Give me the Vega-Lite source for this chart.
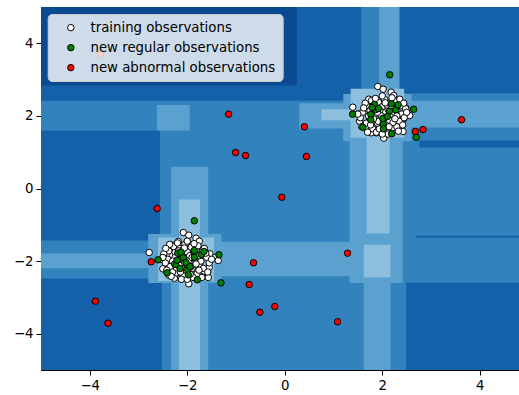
{
  "$schema": "https://vega.github.io/schema/vega-lite/v6.json",
  "width": 478,
  "height": 363,
  "autosize": "none",
  "padding": {"left": 41, "top": 7, "right": 0, "bottom": 25},
  "background": "white",
  "config": {
    "view": {"stroke": null},
    "font": "DejaVu Sans",
    "axis": {"labelFont": "DejaVu Sans", "labelFontSize": 13.3, "labelColor": "black", "tickColor": "black", "domainColor": "black", "tickSize": 5, "labelPadding": 3, "grid": false, "title": null, "domainWidth": 1}
  },
  "datasets": {
    "bg": [
      {"x0": -5, "x1": 4.81, "y0": -5, "y1": 5, "lvl": "c"},
      {"x0": -5, "x1": 1.57, "y0": 2.42, "y1": 5, "lvl": "b"},
      {"x0": -5, "x1": 0.25, "y0": 2.84, "y1": 5, "lvl": "a"},
      {"x0": 2.35, "x1": 4.81, "y0": 2.62, "y1": 5, "lvl": "b"},
      {"x0": -5, "x1": -2.56, "y0": -1.43, "y1": 1.6, "lvl": "b"},
      {"x0": -5, "x1": -2.52, "y0": -5, "y1": -2.48, "lvl": "b"},
      {"x0": 2.49, "x1": 4.81, "y0": -5, "y1": -2.59, "lvl": "b"},
      {"x0": 2.76, "x1": 4.81, "y0": 1.13, "y1": 1.32, "lvl": "b"},
      {"x0": 2.7, "x1": 4.81, "y0": -1.36, "y1": -1.3, "lvl": "b"},
      {"x0": 1.94, "x1": 2.35, "y0": 2.42, "y1": 5, "lvl": "d"},
      {"x0": 2.35, "x1": 4.81, "y0": 1.68, "y1": 2.42, "lvl": "d"},
      {"x0": 1.33, "x1": 2.42, "y0": -2.6, "y1": 1.5, "lvl": "d"},
      {"x0": 1.62, "x1": 2.17, "y0": -5, "y1": -2.6, "lvl": "d"},
      {"x0": -1.6, "x1": 1.4, "y0": -2.42, "y1": -1.47, "lvl": "d"},
      {"x0": -5, "x1": -2.3, "y0": -2.2, "y1": -1.79, "lvl": "d"},
      {"x0": -2.33, "x1": -1.57, "y0": -5, "y1": 0.6, "lvl": "d"},
      {"x0": -2.8, "x1": -1.3, "y0": -2.6, "y1": -1.25, "lvl": "d"},
      {"x0": -2.62, "x1": -1.95, "y0": 1.6, "y1": 2.3, "lvl": "d"},
      {"x0": 0.3, "x1": 1.4, "y0": 1.65, "y1": 2.35, "lvl": "d"},
      {"x0": 1.2, "x1": 2.6, "y0": 1.3, "y1": 2.6, "lvl": "d"},
      {"x0": 1.68, "x1": 2.15, "y0": -1.24, "y1": 1.7, "lvl": "e"},
      {"x0": 1.62, "x1": 2.17, "y0": -2.45, "y1": -1.55, "lvl": "e"},
      {"x0": -2.17, "x1": -1.74, "y0": -5, "y1": -0.3, "lvl": "e"},
      {"x0": -2.6, "x1": -1.45, "y0": -2.55, "y1": -1.35, "lvl": "e"},
      {"x0": 0.75, "x1": 1.6, "y0": 1.88, "y1": 2.18, "lvl": "e"},
      {"x0": 1.35, "x1": 2.45, "y0": 1.4, "y1": 2.75, "lvl": "e"}
    ],
    "pts": [
      {"x": 1.396, "y": 2.24, "k": "training observations"},
      {"x": 1.908, "y": 2.81, "k": "training observations"},
      {"x": 2.018, "y": 2.736, "k": "training observations"},
      {"x": 2.182, "y": 2.653, "k": "training observations"},
      {"x": 2.235, "y": 2.562, "k": "training observations"},
      {"x": 1.724, "y": 2.46, "k": "training observations"},
      {"x": 2.481, "y": 2.223, "k": "training observations"},
      {"x": 2.562, "y": 2.011, "k": "training observations"},
      {"x": 2.44, "y": 1.92, "k": "training observations"},
      {"x": 2.427, "y": 1.57, "k": "training observations"},
      {"x": 2.031, "y": 1.386, "k": "training observations"},
      {"x": 1.875, "y": 1.534, "k": "training observations"},
      {"x": 1.773, "y": 1.534, "k": "training observations"},
      {"x": 1.65, "y": 1.689, "k": "training observations"},
      {"x": 1.534, "y": 1.854, "k": "training observations"},
      {"x": 1.513, "y": 2.058, "k": "training observations"},
      {"x": 2.05, "y": 2.1, "k": "training observations"},
      {"x": 1.9, "y": 2.2, "k": "training observations"},
      {"x": 2.2, "y": 1.95, "k": "training observations"},
      {"x": 1.75, "y": 1.9, "k": "training observations"},
      {"x": 2.3, "y": 2.15, "k": "training observations"},
      {"x": 1.95, "y": 1.7, "k": "training observations"},
      {"x": 2.15, "y": 2.35, "k": "training observations"},
      {"x": 1.7, "y": 2.25, "k": "training observations"},
      {"x": 2.1, "y": 1.8, "k": "training observations"},
      {"x": 2.35, "y": 1.85, "k": "training observations"},
      {"x": 1.85, "y": 2.05, "k": "training observations"},
      {"x": 2.0, "y": 1.9, "k": "training observations"},
      {"x": 2.25, "y": 2.25, "k": "training observations"},
      {"x": 1.8, "y": 1.65, "k": "training observations"},
      {"x": 2.4, "y": 2.05, "k": "training observations"},
      {"x": 1.6, "y": 2.1, "k": "training observations"},
      {"x": 2.12, "y": 2.18, "k": "training observations"},
      {"x": 1.92, "y": 2.38, "k": "training observations"},
      {"x": 2.22, "y": 1.68, "k": "training observations"},
      {"x": 1.67, "y": 1.8, "k": "training observations"},
      {"x": 2.05, "y": 2.45, "k": "training observations"},
      {"x": 1.82, "y": 2.3, "k": "training observations"},
      {"x": 2.3, "y": 1.7, "k": "training observations"},
      {"x": 2.45, "y": 1.95, "k": "training observations"},
      {"x": 1.55, "y": 1.95, "k": "training observations"},
      {"x": 2.0, "y": 2.25, "k": "training observations"},
      {"x": 2.18, "y": 2.05, "k": "training observations"},
      {"x": 1.9, "y": 1.8, "k": "training observations"},
      {"x": 2.28, "y": 2.4, "k": "training observations"},
      {"x": 1.78, "y": 2.42, "k": "training observations"},
      {"x": 2.08, "y": 1.6, "k": "training observations"},
      {"x": 1.95, "y": 2.15, "k": "training observations"},
      {"x": 2.15, "y": 1.88, "k": "training observations"},
      {"x": 1.72, "y": 2.0, "k": "training observations"},
      {"x": 2.38, "y": 2.28, "k": "training observations"},
      {"x": 2.02, "y": 1.75, "k": "training observations"},
      {"x": 1.88, "y": 1.55, "k": "training observations"},
      {"x": 2.2, "y": 2.5, "k": "training observations"},
      {"x": 1.65, "y": 2.35, "k": "training observations"},
      {"x": 2.33, "y": 1.58, "k": "training observations"},
      {"x": 2.48, "y": 2.2, "k": "training observations"},
      {"x": 1.58, "y": 1.7, "k": "training observations"},
      {"x": 2.1, "y": 2.3, "k": "training observations"},
      {"x": 1.98, "y": 2.0, "k": "training observations"},
      {"x": 2.25, "y": 2.1, "k": "training observations"},
      {"x": 1.85, "y": 2.22, "k": "training observations"},
      {"x": 2.05, "y": 1.95, "k": "training observations"},
      {"x": 1.75, "y": 2.15, "k": "training observations"},
      {"x": 2.42, "y": 1.75, "k": "training observations"},
      {"x": 2.12, "y": 1.5, "k": "training observations"},
      {"x": 1.7, "y": 1.55, "k": "training observations"},
      {"x": 2.0, "y": 2.55, "k": "training observations"},
      {"x": 2.3, "y": 2.0, "k": "training observations"},
      {"x": 1.92, "y": 1.85, "k": "training observations"},
      {"x": 2.18, "y": 2.28, "k": "training observations"},
      {"x": 1.62, "y": 2.22, "k": "training observations"},
      {"x": 2.22, "y": 1.82, "k": "training observations"},
      {"x": 1.82, "y": 1.92, "k": "training observations"},
      {"x": 2.5, "y": 2.1, "k": "training observations"},
      {"x": 1.5, "y": 2.05, "k": "training observations"},
      {"x": 2.06, "y": 2.36, "k": "training observations"},
      {"x": 1.86, "y": 2.48, "k": "training observations"},
      {"x": 2.36, "y": 2.46, "k": "training observations"},
      {"x": 2.14, "y": 1.7, "k": "training observations"},
      {"x": 1.76, "y": 1.75, "k": "training observations"},
      {"x": 2.44, "y": 2.35, "k": "training observations"},
      {"x": 1.94, "y": 1.64, "k": "training observations"},
      {"x": 2.26, "y": 1.92, "k": "training observations"},
      {"x": 1.9, "y": 2.1, "k": "training observations"},
      {"x": 2.0, "y": 1.5, "k": "training observations"},
      {"x": -2.781, "y": -1.763, "k": "training observations"},
      {"x": -2.08, "y": -1.212, "k": "training observations"},
      {"x": -1.969, "y": -1.286, "k": "training observations"},
      {"x": -1.82, "y": -1.369, "k": "training observations"},
      {"x": -1.753, "y": -1.452, "k": "training observations"},
      {"x": -2.284, "y": -1.562, "k": "training observations"},
      {"x": -2.182, "y": -1.46, "k": "training observations"},
      {"x": -1.534, "y": -1.799, "k": "training observations"},
      {"x": -1.425, "y": -1.893, "k": "training observations"},
      {"x": -1.548, "y": -2.168, "k": "training observations"},
      {"x": -1.568, "y": -2.452, "k": "training observations"},
      {"x": -1.65, "y": -2.278, "k": "training observations"},
      {"x": -1.969, "y": -2.625, "k": "training observations"},
      {"x": -2.112, "y": -2.488, "k": "training observations"},
      {"x": -2.264, "y": -2.471, "k": "training observations"},
      {"x": -2.378, "y": -2.388, "k": "training observations"},
      {"x": -2.501, "y": -2.212, "k": "training observations"},
      {"x": -2.501, "y": -1.964, "k": "training observations"},
      {"x": -2.372, "y": -1.846, "k": "training observations"},
      {"x": -1.99, "y": -1.59, "k": "training observations"},
      {"x": -1.759, "y": -2.003, "k": "training observations"},
      {"x": -1.364, "y": -1.983, "k": "training observations"},
      {"x": -2.4, "y": -2.02, "k": "training observations"},
      {"x": -2.05, "y": -1.9, "k": "training observations"},
      {"x": -1.9, "y": -1.8, "k": "training observations"},
      {"x": -2.2, "y": -2.05, "k": "training observations"},
      {"x": -1.75, "y": -2.1, "k": "training observations"},
      {"x": -2.3, "y": -1.85, "k": "training observations"},
      {"x": -1.95, "y": -2.3, "k": "training observations"},
      {"x": -2.15, "y": -1.65, "k": "training observations"},
      {"x": -1.7, "y": -1.75, "k": "training observations"},
      {"x": -2.1, "y": -2.2, "k": "training observations"},
      {"x": -2.35, "y": -2.15, "k": "training observations"},
      {"x": -1.85, "y": -1.95, "k": "training observations"},
      {"x": -2.0, "y": -2.1, "k": "training observations"},
      {"x": -2.25, "y": -1.75, "k": "training observations"},
      {"x": -1.8, "y": -2.35, "k": "training observations"},
      {"x": -2.4, "y": -1.95, "k": "training observations"},
      {"x": -1.6, "y": -1.9, "k": "training observations"},
      {"x": -2.12, "y": -1.82, "k": "training observations"},
      {"x": -1.92, "y": -1.62, "k": "training observations"},
      {"x": -2.22, "y": -2.32, "k": "training observations"},
      {"x": -1.67, "y": -2.2, "k": "training observations"},
      {"x": -2.05, "y": -1.55, "k": "training observations"},
      {"x": -1.82, "y": -1.7, "k": "training observations"},
      {"x": -2.3, "y": -2.3, "k": "training observations"},
      {"x": -2.45, "y": -2.05, "k": "training observations"},
      {"x": -1.55, "y": -2.05, "k": "training observations"},
      {"x": -2.0, "y": -1.75, "k": "training observations"},
      {"x": -2.18, "y": -1.95, "k": "training observations"},
      {"x": -1.9, "y": -2.2, "k": "training observations"},
      {"x": -2.28, "y": -1.6, "k": "training observations"},
      {"x": -1.78, "y": -1.58, "k": "training observations"},
      {"x": -2.08, "y": -2.4, "k": "training observations"},
      {"x": -1.95, "y": -1.85, "k": "training observations"},
      {"x": -2.15, "y": -2.12, "k": "training observations"},
      {"x": -1.72, "y": -2.0, "k": "training observations"},
      {"x": -2.38, "y": -1.72, "k": "training observations"},
      {"x": -2.02, "y": -2.25, "k": "training observations"},
      {"x": -1.88, "y": -2.45, "k": "training observations"},
      {"x": -2.2, "y": -1.5, "k": "training observations"},
      {"x": -1.65, "y": -1.65, "k": "training observations"},
      {"x": -2.33, "y": -2.42, "k": "training observations"},
      {"x": -2.48, "y": -1.8, "k": "training observations"},
      {"x": -1.58, "y": -2.3, "k": "training observations"},
      {"x": -2.1, "y": -1.7, "k": "training observations"},
      {"x": -1.98, "y": -2.0, "k": "training observations"},
      {"x": -2.25, "y": -1.9, "k": "training observations"},
      {"x": -1.85, "y": -1.78, "k": "training observations"},
      {"x": -2.05, "y": -2.05, "k": "training observations"},
      {"x": -1.75, "y": -1.85, "k": "training observations"},
      {"x": -2.42, "y": -2.25, "k": "training observations"},
      {"x": -2.12, "y": -2.5, "k": "training observations"},
      {"x": -1.7, "y": -2.45, "k": "training observations"},
      {"x": -2.0, "y": -1.45, "k": "training observations"},
      {"x": -2.3, "y": -2.0, "k": "training observations"},
      {"x": -1.92, "y": -2.15, "k": "training observations"},
      {"x": -2.18, "y": -1.72, "k": "training observations"},
      {"x": -1.62, "y": -1.78, "k": "training observations"},
      {"x": -2.22, "y": -2.18, "k": "training observations"},
      {"x": -1.82, "y": -2.08, "k": "training observations"},
      {"x": -2.5, "y": -1.9, "k": "training observations"},
      {"x": -1.5, "y": -1.95, "k": "training observations"},
      {"x": -2.06, "y": -1.64, "k": "training observations"},
      {"x": -1.86, "y": -1.52, "k": "training observations"},
      {"x": -2.36, "y": -1.54, "k": "training observations"},
      {"x": -2.14, "y": -2.3, "k": "training observations"},
      {"x": -1.76, "y": -2.25, "k": "training observations"},
      {"x": -2.44, "y": -1.65, "k": "training observations"},
      {"x": -1.94, "y": -2.36, "k": "training observations"},
      {"x": -2.26, "y": -2.08, "k": "training observations"},
      {"x": -1.9, "y": -1.9, "k": "training observations"},
      {"x": -2.0, "y": -2.5, "k": "training observations"},
      {"x": 2.153, "y": 3.132, "k": "new regular observations"},
      {"x": 1.391, "y": 2.047, "k": "new regular observations"},
      {"x": 1.601, "y": 1.689, "k": "new regular observations"},
      {"x": 1.765, "y": 2.039, "k": "new regular observations"},
      {"x": 1.765, "y": 1.893, "k": "new regular observations"},
      {"x": 1.84, "y": 2.314, "k": "new regular observations"},
      {"x": 1.867, "y": 2.176, "k": "new regular observations"},
      {"x": 1.922, "y": 2.204, "k": "new regular observations"},
      {"x": 2.018, "y": 1.782, "k": "new regular observations"},
      {"x": 2.025, "y": 1.645, "k": "new regular observations"},
      {"x": 2.147, "y": 2.129, "k": "new regular observations"},
      {"x": 2.188, "y": 2.333, "k": "new regular observations"},
      {"x": 2.194, "y": 1.507, "k": "new regular observations"},
      {"x": 2.276, "y": 2.168, "k": "new regular observations"},
      {"x": 2.325, "y": 2.306, "k": "new regular observations"},
      {"x": 2.644, "y": 2.185, "k": "new regular observations"},
      {"x": 2.699, "y": 1.413, "k": "new regular observations"},
      {"x": 2.01, "y": 1.928, "k": "new regular observations"},
      {"x": 1.789, "y": 2.231, "k": "new regular observations"},
      {"x": 2.106, "y": 1.983, "k": "new regular observations"},
      {"x": -1.855, "y": -0.89, "k": "new regular observations"},
      {"x": -2.597, "y": -1.964, "k": "new regular observations"},
      {"x": -2.413, "y": -2.322, "k": "new regular observations"},
      {"x": -2.235, "y": -2.094, "k": "new regular observations"},
      {"x": -2.194, "y": -1.782, "k": "new regular observations"},
      {"x": -2.209, "y": -1.975, "k": "new regular observations"},
      {"x": -2.127, "y": -1.755, "k": "new regular observations"},
      {"x": -2.08, "y": -1.909, "k": "new regular observations"},
      {"x": -1.99, "y": -2.24, "k": "new regular observations"},
      {"x": -1.978, "y": -2.377, "k": "new regular observations"},
      {"x": -1.855, "y": -1.708, "k": "new regular observations"},
      {"x": -1.855, "y": -1.893, "k": "new regular observations"},
      {"x": -1.793, "y": -2.515, "k": "new regular observations"},
      {"x": -1.712, "y": -1.818, "k": "new regular observations"},
      {"x": -1.656, "y": -1.736, "k": "new regular observations"},
      {"x": -1.35, "y": -1.826, "k": "new regular observations"},
      {"x": -1.309, "y": -2.598, "k": "new regular observations"},
      {"x": -2.025, "y": -2.039, "k": "new regular observations"},
      {"x": -1.943, "y": -2.149, "k": "new regular observations"},
      {"x": -2.147, "y": -2.204, "k": "new regular observations"},
      {"x": -1.151, "y": 2.047, "k": "new abnormal observations"},
      {"x": -1.008, "y": 0.992, "k": "new abnormal observations"},
      {"x": -0.804, "y": 0.909, "k": "new abnormal observations"},
      {"x": 0.403, "y": 1.7, "k": "new abnormal observations"},
      {"x": 0.444, "y": 0.882, "k": "new abnormal observations"},
      {"x": -0.061, "y": -0.24, "k": "new abnormal observations"},
      {"x": 2.679, "y": 1.57, "k": "new abnormal observations"},
      {"x": 2.836, "y": 1.625, "k": "new abnormal observations"},
      {"x": 3.626, "y": 1.893, "k": "new abnormal observations"},
      {"x": -2.618, "y": -0.551, "k": "new abnormal observations"},
      {"x": -2.74, "y": -2.019, "k": "new abnormal observations"},
      {"x": -0.64, "y": -2.047, "k": "new abnormal observations"},
      {"x": -0.73, "y": -2.645, "k": "new abnormal observations"},
      {"x": -3.885, "y": -3.105, "k": "new abnormal observations"},
      {"x": -3.626, "y": -3.711, "k": "new abnormal observations"},
      {"x": -0.511, "y": -3.408, "k": "new abnormal observations"},
      {"x": 1.288, "y": -1.782, "k": "new abnormal observations"},
      {"x": -0.204, "y": -3.251, "k": "new abnormal observations"},
      {"x": 1.084, "y": -3.672, "k": "new abnormal observations"},
      {"x": -3.783, "y": 3.691, "k": "new abnormal observations"}
    ]
  },
  "layer": [
    {
      "data": {"name": "bg"},
      "mark": {"type": "rect", "clip": true},
      "encoding": {
        "x": {"field": "x0", "type": "quantitative", "scale": {"domain": [-5, 4.805], "nice": false, "zero": false}, "axis": {"values": [-4, -2, 0, 2, 4], "format": "d"}},
        "x2": {"field": "x1"},
        "y": {"field": "y0", "type": "quantitative", "scale": {"domain": [-5, 5], "nice": false, "zero": false}, "axis": {"values": [-4, -2, 0, 2, 4], "format": "d"}},
        "y2": {"field": "y1"},
        "color": {"field": "lvl", "type": "nominal", "scale": {"domain": ["a", "b", "c", "d", "e"], "range": ["#0a4a90", "#1561a9", "#3282be", "#5ba1d0", "#8bbfdd"]}, "legend": null}
      }
    },
    {
      "data": {"name": "pts"},
      "mark": {"type": "point", "shape": "circle", "filled": true, "size": 42, "stroke": "black", "strokeWidth": 1, "opacity": 1, "clip": true},
      "encoding": {
        "x": {"field": "x", "type": "quantitative"},
        "y": {"field": "y", "type": "quantitative"},
        "color": {"field": "k", "type": "nominal", "scale": {"domain": ["training observations", "new regular observations", "new abnormal observations"], "range": ["white", "green", "red"]},
          "legend": {"title": null, "orient": "none", "legendX": 6.7, "legendY": 7, "padding": 7, "symbolOffset": 9.5, "labelOffset": 13, "rowPadding": 6, "labelFont": "DejaVu Sans", "labelFontSize": 13.3, "labelColor": "black", "symbolSize": 42, "symbolStrokeColor": "black", "symbolStrokeWidth": 1, "symbolType": "circle", "fillColor": "rgba(255,255,255,0.8)", "strokeColor": "#cccccc", "cornerRadius": 4, "labelLimit": 400}
        }
      }
    },
    {
      "mark": {"type": "rule", "color": "black", "strokeWidth": 1},
      "encoding": {"y": {"datum": 5}}
    }
  ],
  "resolve": {"scale": {"color": "independent"}}
}
